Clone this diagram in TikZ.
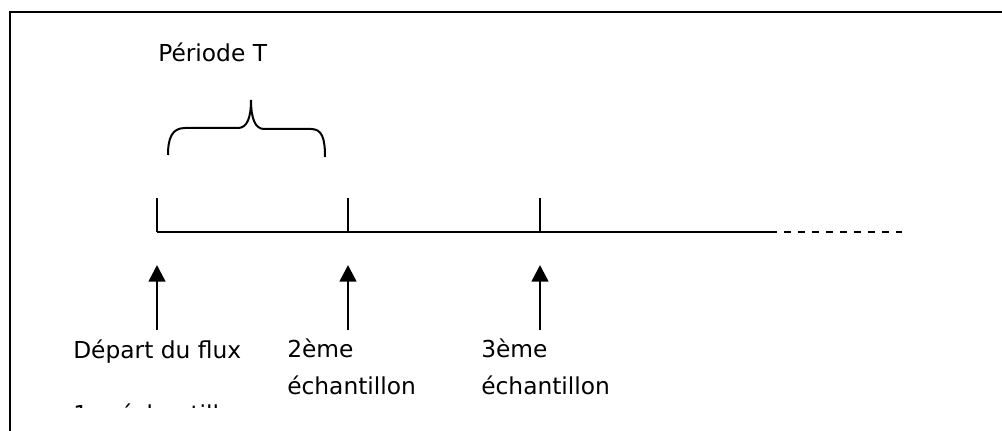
\documentclass[tikz,border=0pt]{standalone}
\usepackage{fontspec}
\setmainfont{DejaVu Sans}
\usetikzlibrary{arrows.meta}
\tikzset{
  lbl/.style={anchor=base west, inner sep=0pt, font=\fontsize{17.5pt}{21pt}\selectfont},
  frame/.style={line width=1.8pt},
  axis/.style={line width=1.9pt},
  tick/.style={line width=1.9pt},
  uparrow/.style={line width=1.9pt, -{Triangle[length=12.5pt 0 0,width=12.5pt 0 0]}},
  brace/.style={line width=1.5pt},
  cont/.style={line width=1.9pt, dash pattern=on 5.25pt off 5.25pt}
}
\begin{document}
\begin{tikzpicture}[x=0.75pt,y=-0.75pt]
\useasboundingbox (0,0) rectangle (1002,431);
% frame
\coordinate (fbl) at (10,431);
\coordinate (ftl) at (10,12);
\coordinate (ftr) at (1002,12);
\draw[frame] (fbl) -- (ftl) -- (ftr);
% title
\node[lbl] (per) at (158,62) {Période T};
% brace
\draw[brace] (168,155) .. controls (168,138) and (172,128) .. (185,128) -- (238,128)
  .. controls (247,128) and (251,118) .. (251,100)
  .. controls (251,118) and (255,129) .. (264,129) -- (311,129)
  .. controls (322,129) and (325,138) .. (325,157);
% time axis
\coordinate (t0) at (157,232);
\coordinate (t1) at (348,232);
\coordinate (t2) at (540,232);
\coordinate (tend) at (770,232);
\coordinate (tdash) at (902,232);
\draw[axis] (t0) -- (tend);
\draw[cont] (tend) -- (tdash);
\coordinate (k0) at (157,198);
\coordinate (k1) at (348,198);
\coordinate (k2) at (540,198);
\draw[tick] (k0) -- (t0);
\draw[tick] (k1) -- (t1);
\draw[tick] (k2) -- (t2);
% arrows
\coordinate (b0) at (157,330);
\coordinate (b1) at (348,330);
\coordinate (b2) at (540,330);
\coordinate (p0) at (157,265);
\coordinate (p1) at (348,265);
\coordinate (p2) at (540,265);
\draw[uparrow] (b0) -- (p0);
\draw[uparrow] (b1) -- (p1);
\draw[uparrow] (b2) -- (p2);
% labels
\node[lbl] (dep) at (73,358) {Départ du flux};
\begin{scope}
\clip (60,395) rectangle (300,407);
\node[lbl] (first) at (73,422) {1er échantillon};
\end{scope}
\node[lbl] (s2a) at (287,357) {2ème};
\node[lbl] (s2b) at (287,394) {échantillon};
\node[lbl] (s3a) at (481,357) {3ème};
\node[lbl] (s3b) at (481,394) {échantillon};
\end{tikzpicture}
\end{document}
